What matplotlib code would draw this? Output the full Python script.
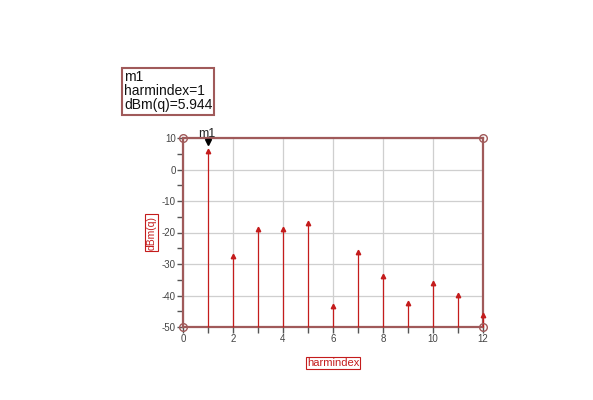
import matplotlib
matplotlib.use("Agg")
import matplotlib.pyplot as plt
import numpy as np

plt.rcParams["font.family"] = ["Liberation Sans", "DejaVu Sans"]
plt.rcParams["axes.unicode_minus"] = False

harm = [1, 2, 3, 4, 5, 6, 7, 8, 9, 10, 11, 12]
dbm = [5.944, -27.5, -19.0, -19.0, -17.1, -43.3, -26.1, -33.9, -42.5, -35.9, -39.7, -46.1]
xticks = [0, 2, 4, 6, 8, 10, 12]
yticks = [-50, -40, -30, -20, -10, 0, 10]

frame_c = "#a05a5a"
red = "#c41c1c"

fig = plt.figure(figsize=(5.93, 4.0), dpi=100)
ax = fig.add_axes([0.3086, 0.1825, 0.5059, 0.4725])
ax.set_xlim(0, 12)
ax.set_ylim(-50, 10)
ax.set_xticks(xticks)
ax.set_yticks(yticks)
ax.set_xticks(range(1, 12, 2), minor=True)
ax.set_yticks(range(-45, 10, 10), minor=True)
ax.grid(True, which="major", color="#cfcfcf", linewidth=0.9)
ax.set_axisbelow(True)
ax.tick_params(which="major", direction="out", length=4, width=1, color="#555555",
               labelsize=7, labelcolor="#444444", pad=1)
ax.tick_params(which="minor", direction="out", length=4, width=1, color="#555555")
for s in ax.spines.values():
    s.set_color(frame_c)
    s.set_linewidth(1.6)

for x, y in zip(harm, dbm):
    ax.plot([x, x], [-50, y], color=red, lw=0.9, solid_capstyle="butt", clip_on=False, zorder=3)
ax.plot(harm, dbm, linestyle="none", marker="^", markersize=3.2, color=red, clip_on=False, zorder=4)

# corner circles
ax.plot([0, 12, 0, 12], [10, 10, -50, -50], linestyle="none", marker="o", markersize=5.5,
        markerfacecolor="none", markeredgecolor=frame_c, markeredgewidth=1.0, clip_on=False, zorder=5)

# marker m1
ax.plot([harm[0]], [dbm[0] + 2.8], marker="v", markersize=5, color="black", linestyle="none",
        clip_on=False, zorder=6)
ax.text(0.62, 9.3, "m1", fontsize=9, color="#222222", ha="left", va="bottom")

ax.set_xlabel("harmindex", fontsize=8, color=red, labelpad=10,
              bbox=dict(boxstyle="square,pad=0.1", fc="white", ec=red, lw=0.8))
ax.set_ylabel("dBm(q)", fontsize=7.5, color=red, labelpad=4,
              bbox=dict(boxstyle="square,pad=0.1", fc="white", ec=red, lw=0.8))

fig.text(124 / 593, 1 - 70 / 400, "m1\nharmindex=1\ndBm(q)=5.944", fontsize=10, color="#111111",
         ha="left", va="top", linespacing=1.02,
         bbox=dict(boxstyle="square,pad=0.15", fc="white", ec=frame_c, lw=1.5))

fig.savefig("out.png", dpi=100)
